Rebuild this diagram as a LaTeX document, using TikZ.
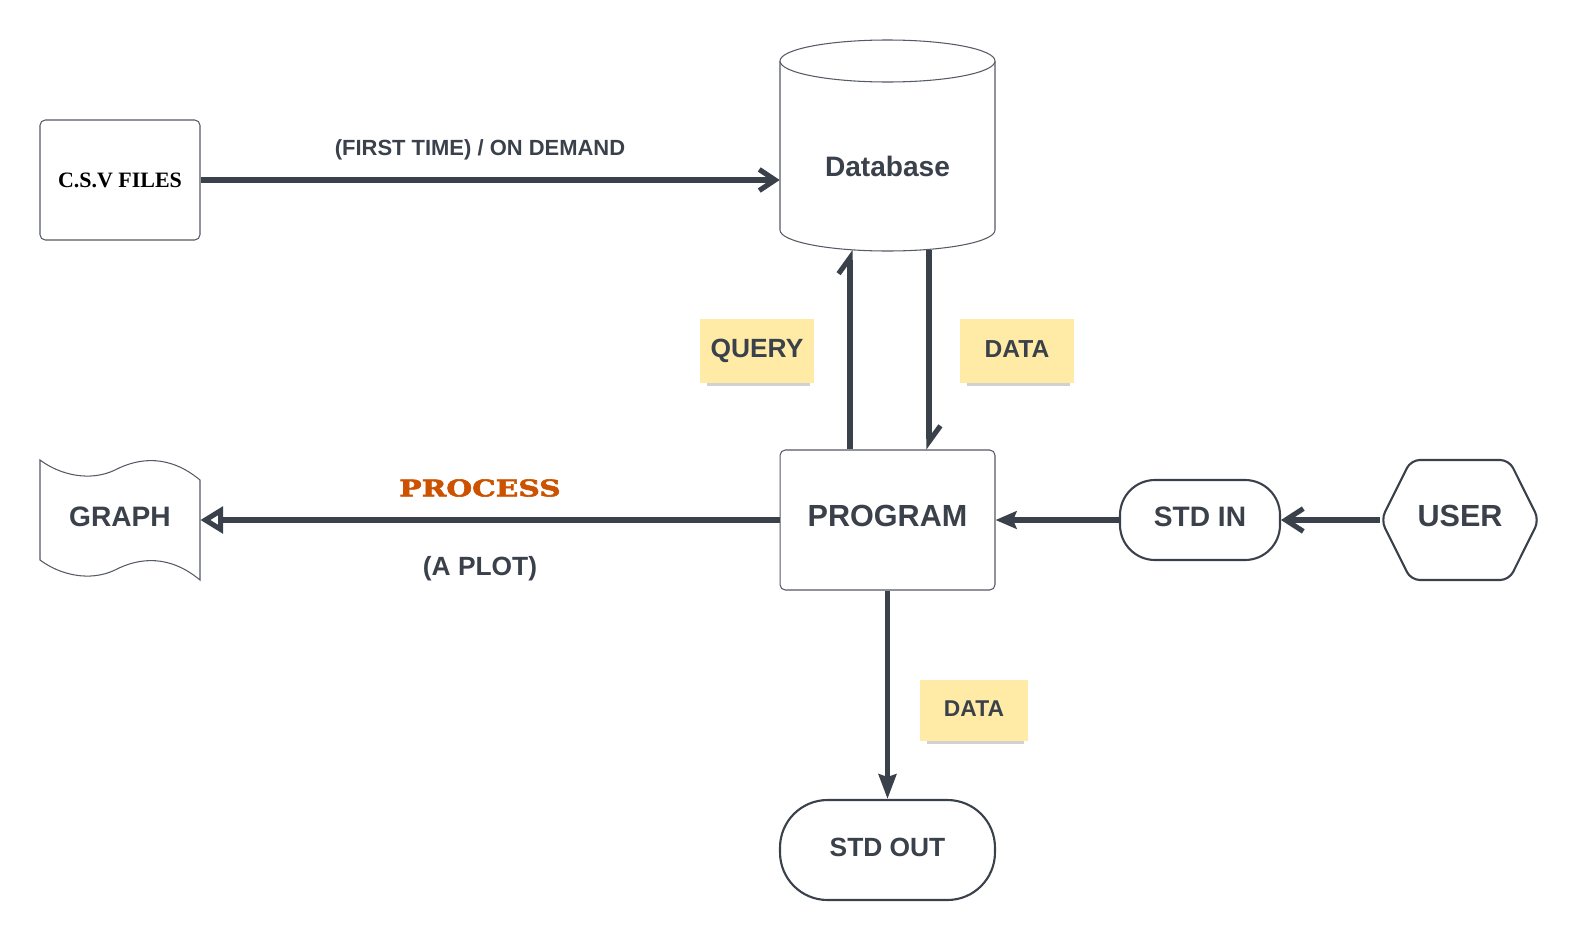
\documentclass[tikz,border=0pt]{standalone}
\usepackage{fontspec}
\setmainfont{Liberation Sans}
\newfontfamily\csvfont{Liberation Serif}
\newfontfamily\slabfont[FakeStretch=1.3, FakeBold=2.5]{DejaVu Serif}
\usetikzlibrary{arrows.meta,shadows,shapes.symbols}
\definecolor{ink}{HTML}{3A414A}
\definecolor{edge}{HTML}{555B64}
\definecolor{sticky}{HTML}{FFEBA6}
\definecolor{rust}{HTML}{CC5200}

\begin{document}
\begin{tikzpicture}[x=0.02cm, y=-0.02cm]

    \tikzset{
      box/.style={
        draw=edge,
        line width=0.6pt,
        rounded corners=3pt,
        fill=white,
        inner sep=0pt,
      },
      term/.style={
        draw=ink,
        line width=1.2pt,
        fill=white,
        inner sep=0pt,
      },
      note/.style={
        fill=sticky,
        inner sep=0pt,
        drop shadow={shadow xshift=1pt, shadow yshift=-4pt, shadow scale=0.9, opacity=0.18, fill=black},
      },
      lbl/.style={text=ink},
      lift/.style={text height=12pt, text depth=5pt},
      flow/.style={draw=ink, line width=2.9pt},
    }
    \path[use as bounding box, fill=white] (0,0) rectangle (1580,940);

    \node[box, minimum width=3.2cm, minimum height=2.4cm, font={\csvfont\fontsize{12.5}{15}\selectfont\bfseries}] (csv) at (120,180) {C.S.V FILES};

	\draw[edge, line width=0.6pt, fill=white] (780,61) -- (780,230) .. controls (780,241.6) and (828.1,251) .. (887.5,251) .. controls (946.9,251) and (995,241.6) .. (995,230) -- (995,61);
	\draw[edge, line width=0.6pt, fill=white] (887.5,61) ellipse [x radius=107.5, y radius=21];
    \node[lbl, minimum width=4.3cm, minimum height=3.38cm, font={\fontsize{16}{19}\selectfont\bfseries}] (db) at (887.5,166.5) {Database};

    \node[box, lift, lbl, minimum width=4.3cm, minimum height=2.8cm, font={\fontsize{17.4}{20}\selectfont\bfseries}] (prog) at (887.5,520) {PROGRAM};

	\draw[edge, line width=0.6pt, fill=white] (40,460) .. controls (60,475) and (90,482) .. (115,470) .. controls (140,457) and (170,455) .. (200,480) -- (200,580) .. controls (170,555) and (140,557) .. (115,570) .. controls (90,582) and (60,575) .. (40,560) -- cycle;
    \node[lbl, lift, minimum width=3.2cm, minimum height=2cm, font={\fontsize{16}{19}\selectfont\bfseries}] (graph) at (120,520) {GRAPH};

    \node[term, lift, lbl, rounded corners=0.7cm, minimum width=3.2cm, minimum height=1.6cm, font={\fontsize{16}{19}\selectfont\bfseries}] (stdin) at (1200,520) {STD IN};
    \node[term, lift, lbl, shape=signal, signal to=west and east, signal pointer angle=127, rounded corners=5pt, minimum width=3.16cm, minimum height=2.4cm, font={\fontsize{17.4}{20}\selectfont\bfseries}] (user) at (1460,520) {USER};
    \node[term, lift, lbl, rounded corners=0.95cm, minimum width=4.3cm, minimum height=2cm, font={\fontsize{15}{18}\selectfont\bfseries}] (stdout) at (887.5,850) {STD OUT};

    \node[note, lift, lbl, minimum width=2.28cm, minimum height=1.28cm, font={\fontsize{15}{18}\selectfont\bfseries}] (query) at (757,351) {QUERY};
    \node[note, lift, lbl, minimum width=2.28cm, minimum height=1.28cm, font={\fontsize{14}{17}\selectfont\bfseries}] (data) at (1017,351) {DATA};
    \node[note, lift, lbl, minimum width=2.16cm, minimum height=1.22cm, font={\fontsize{13}{16}\selectfont\bfseries}] (dataout) at (974,710) {DATA};

    \node[lbl, font={\fontsize{12.5}{15}\selectfont\bfseries}] (ondemand) at (480,150) {(FIRST TIME) / ON DEMAND};
    \node[text=rust, font={\slabfont\fontsize{13}{15}\selectfont\bfseries}] (process) at (480,488) {PROCESS};
    \node[lbl, font={\fontsize{15}{18}\selectfont\bfseries}] (aplot) at (480,569) {(A PLOT)};

    \coordinate (qry) at (850,250);
    \coordinate (dat) at (929,250);

	\draw[flow, -{Straight Barb[length=9pt, width=12pt]}] (csv.east) -- (csv.east -| db.west);
	\draw[flow, -{Straight Barb[harpoon, length=9pt, width=13pt]}] (prog.north -| qry) -- (qry);
	\draw[flow, -{Straight Barb[harpoon, length=9pt, width=13pt]}] (dat) -- (dat |- prog.north);
	\draw[flow, -{Triangle[open, length=13pt, width=15pt]}] (prog.west) -- (graph.east);
	\draw[flow, -{Stealth[length=12pt, width=10pt, inset=2pt]}] (stdin.west) -- (prog.east);
	\draw[flow, -{Straight Barb[length=10pt, width=13pt]}] (user.west) -- (stdin.east);
	\draw[flow, -{Stealth[length=14pt, width=10pt, inset=1.5pt]}] (prog.south) -- (stdout.north);

\end{tikzpicture}
\end{document}
